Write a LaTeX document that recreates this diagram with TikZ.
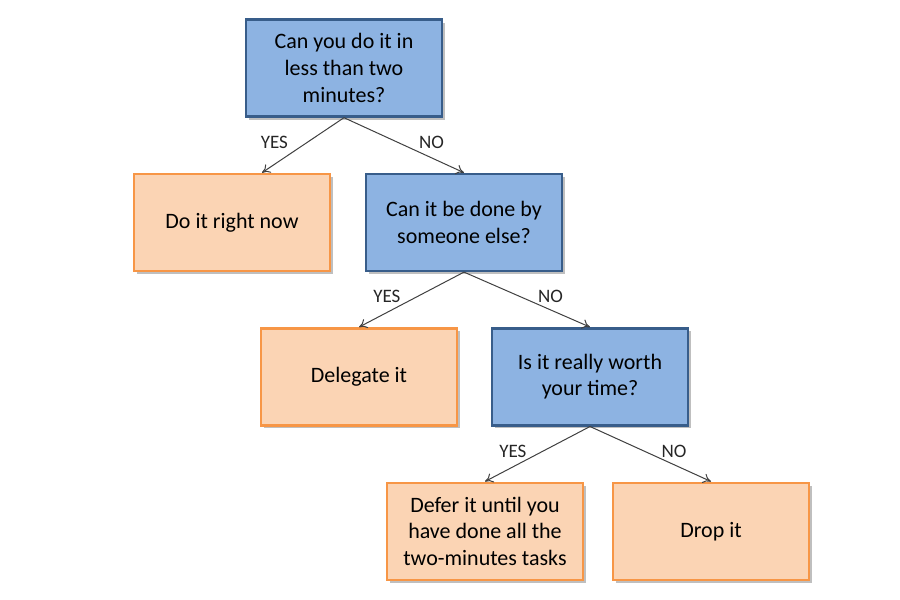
\documentclass[tikz,border=0pt]{standalone}
\usepackage{fontspec}
\setmainfont{Carlito}
\usetikzlibrary{positioning, shadows, arrows.meta}

\definecolor{askfill}{HTML}{8DB3E2}
\definecolor{askline}{HTML}{385D8A}
\definecolor{dofill}{HTML}{FBD4B4}
\definecolor{doline}{HTML}{F79646}

\begin{document}
\begin{tikzpicture}[
  x=0.5pt, y=-0.5pt,
  >={To[length=4pt, width=5pt]},
  node distance=27.5pt,
  box/.style={draw, line width=1.2pt, minimum width=98pt, minimum height=48.5pt,
              align=center, font=\fontsize{11}{13.3}\selectfont,
              drop shadow={shadow xshift=1.5pt, shadow yshift=-1.5pt,
                           opacity=0.25, fill=black}},
  ask/.style={box, fill=askfill, draw=askline},
  act/.style={box, fill=dofill, draw=doline},
  link/.style={->, draw=black!75, line width=0.5pt},
  lab/.style={font=\fontsize{9.5}{10}\selectfont, text=black!85, midway, yshift=1.5pt}
]
  \useasboundingbox (0,0) rectangle (900,600);

  \node[ask] (q1) at (344,68) {Can you do it in\\less than two\\minutes?};
  \node[act, below=of q1, xshift=-56pt]  (a1) {Do it right now};
  \node[ask, below=of q1, xshift=60pt]   (q2) {Can it be done by\\someone else?};
  \node[act, below=of q2, xshift=-52.5pt] (a2) {Delegate it};
  \node[ask, below=of q2, xshift=63pt]   (q3) {Is it really worth\\your time?};
  \node[act, below=of q3, xshift=-52.5pt] (a3) {Defer it until you\\have done all the\\two-minutes tasks};
  \node[act, below=of q3, xshift=60.5pt] (a4) {Drop it};

  \draw[link] (q1.south) -- node[lab, left=4pt]  {YES} ([xshift=15pt]a1.north);
  \draw[link] (q1.south) -- node[lab, right=4pt] {NO}  (q2.north);
  \draw[link] (q2.south) -- node[lab, left=2pt]  {YES} (a2.north);
  \draw[link] (q2.south) -- node[lab, right=2pt] {NO}  (q3.north);
  \draw[link] (q3.south) -- node[lab, left=2pt]  {YES} (a3.north);
  \draw[link] (q3.south) -- node[lab, right=2pt] {NO}  (a4.north);
\end{tikzpicture}
\end{document}
